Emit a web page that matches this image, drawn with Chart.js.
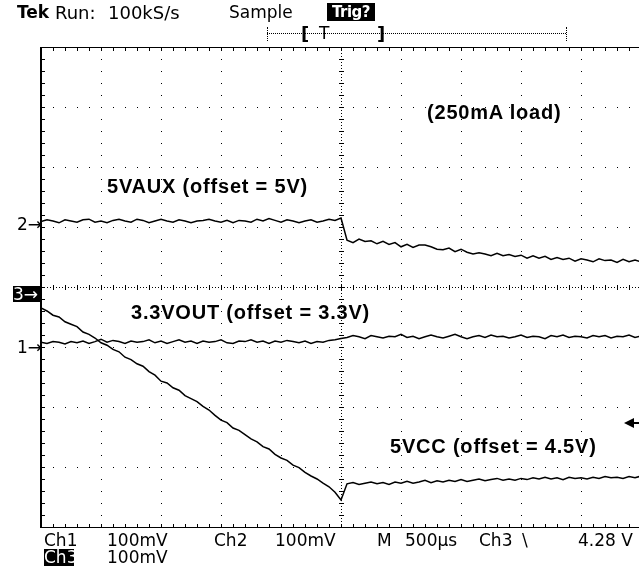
<!DOCTYPE html>
<html>
<head>
<meta charset="utf-8">
<script src="https://cdn.jsdelivr.net/npm/chart.js@4.4.0/dist/chart.umd.min.js"></script>
<style>
  html, body { margin: 0; padding: 0; background: #fff; }
  #wrap { position: relative; width: 639px; height: 567px; overflow: hidden; }
  #scope { position: absolute; left: 0; top: 0; }
  .t { position: absolute; font-family: "DejaVu Sans", sans-serif; font-size: 17px; line-height: 17px; color: #000; white-space: nowrap; }
  .inv { background: #000; color: #fff; text-align: center; }
  .note { position: absolute; font-family: "Liberation Sans", Arial, sans-serif; font-weight: bold; font-size: 20px; line-height: 20px; letter-spacing: 0.8px; color: #000; white-space: nowrap; }
  .dotline { position: absolute; border-top: 1px dotted #000; height: 0; }
  .dotv { position: absolute; border-left: 1px dotted #000; width: 0; }
</style>
</head>
<body>
<div id="wrap">
  <canvas id="scope" width="639" height="567"></canvas>

  <!-- header -->
  <div class="t" style="left:17px; top:4px; font-weight:bold;">Tek</div>
  <div class="t" style="left:55px; top:4px; font-size:18px;">Run:</div>
  <div class="t" style="left:108px; top:4px; font-size:18px;">100kS/s</div>
  <div class="t" style="left:229px; top:4px;">Sample</div>
  <div class="t inv" style="left:327px; top:3px; width:48px; height:18px; font-weight:bold; font-size:15px; line-height:18px; letter-spacing:-0.5px;">Trig?</div>

  <!-- record bracket -->
  <div class="dotline" style="left:267px; top:33px; width:299px;"></div>
  <div class="dotv" style="left:267px; top:27px; height:14px;"></div>
  <div class="dotv" style="left:566px; top:27px; height:14px;"></div>
  <div class="t" style="left:301px; top:25px; font-weight:bold; font-size:18px; line-height:18px;">[</div>
  <div class="t" style="left:319px; top:25px;">T</div>
  <div class="t" style="left:377px; top:25px; font-weight:bold; font-size:18px; line-height:18px;">]</div>

  <!-- channel markers -->
  <div class="t" style="left:17px; top:216px;">2→</div>
  <div class="t inv" style="left:13px; top:286px; width:27px; height:16px; line-height:16px; text-align:left;">3→</div>
  <div class="t" style="left:17px; top:339px;">1→</div>
  <div style="position:absolute; left:624px; top:418px; width:0; height:0; border-right:10px solid #000; border-top:5px solid transparent; border-bottom:5px solid transparent;"></div>
  <div style="position:absolute; left:633px; top:422px; width:7px; height:2px; background:#000;"></div>

  <!-- annotations -->
  <div class="note" style="left:427px; top:102px;">(250mA load)</div>
  <div class="note" style="left:107px; top:176px;">5VAUX (offset = 5V)</div>
  <div class="note" style="left:131px; top:302px;">3.3VOUT (offset = 3.3V)</div>
  <div class="note" style="left:390px; top:436px;">5VCC (offset = 4.5V)</div>

  <!-- footer -->
  <div class="t" style="left:44px; top:532px;">Ch1</div>
  <div class="t" style="left:107px; top:532px;">100mV</div>
  <div class="t" style="left:214px; top:532px;">Ch2</div>
  <div class="t" style="left:275px; top:532px;">100mV</div>
  <div class="t" style="left:377px; top:532px;">M</div>
  <div class="t" style="left:405px; top:532px;">500µs</div>
  <div class="t" style="left:479px; top:532px;">Ch3</div>
  <div class="t" style="left:522px; top:532px;">\</div>
  <div class="t" style="left:578px; top:532px;">4.28 V</div>
  <div class="t inv" style="left:44px; top:549px; width:30px; height:17px; line-height:17px;">Ch3</div>
  <div class="t" style="left:107px; top:549px;">100mV</div>
</div>

<script>
// sample clock: 500us/div, trigger at centre of the screen
const t0 = -2500;
const dt = 50;

// screen reference (divisions) of each channel's ground marker
const ch1Ref = -1;
const ch2Ref = 1;
const ch3Ref = 0;

// 3.3VOUT, mV relative to 3.3V offset
const ch1 = [8, 6, 9, 8, 5, 9, 7, 10, 6, 9, 13, 8, 11, 9, 6, 10, 8, 9, 12, 7,
  10, 6, 9, 12, 8, 10, 6, 10, 8, 9, 12, 7, 6, 10, 9, 12, 8, 10, 6, 10,
  8, 11, 9, 7, 10, 6, 9, 8, 11, 12, 14,
  16, 19, 17, 14, 19, 17, 15, 18, 17, 21, 16, 18, 14, 17, 20, 17, 15, 18, 21, 17,
  14, 17, 19, 16, 20, 17, 18, 15, 17, 20, 16, 18, 17, 14, 19, 17, 20, 16, 18, 17,
  15, 19, 17, 19, 15, 18, 17, 20, 16, 18];

// 5VAUX, mV relative to 5V offset
const ch2 = [9, 12, 10, 7, 12, 10, 8, 12, 13, 8, 10, 7, 11, 13, 10, 8, 13, 11, 7, 10,
  13, 10, 8, 12, 10, 7, 10, 11, 13, 10, 8, 11, 7, 11, 10, 8, 13, 10, 14, 11,
  8, 12, 10, 7, 10, 12, 8, 10, 13, 11, 15,
  -22, -26, -20, -24, -23, -28, -24, -29, -26, -33, -29, -34, -30, -30, -33, -37, -38, -35, -41, -37,
  -42, -45, -43, -45, -48, -44, -48, -46, -49, -47, -52, -48, -52, -49, -54, -51, -54, -52, -57, -53,
  -55, -58, -53, -56, -55, -59, -54, -58, -55, -58];

// 5VCC, mV relative to 4.5V offset
const ch3 = [-35, -40, -47, -50, -58, -62, -66, -75, -79, -85, -93, -97, -104, -108, -117, -121, -128, -132, -141, -147,
  -157, -160, -168, -172, -181, -186, -191, -199, -205, -214, -222, -226, -235, -239, -246, -253, -258, -266, -270, -279,
  -285, -289, -297, -301, -309, -315, -320, -327, -333, -342, -355,
  -328, -326, -329, -327, -325, -328, -326, -329, -325, -327, -324, -327, -325, -322, -326, -323, -325, -322, -324, -321,
  -324, -322, -320, -323, -321, -319, -322, -320, -322, -319, -321, -318, -320, -317, -320, -318, -321, -317, -319, -318,
  -320, -317, -319, -316, -318, -317, -319, -316, -318, -315];

function trace(values, ref) {
  return values.map((mv, i) => ({ x: t0 + i * dt, y: ref + mv / 100 }));
}

function traceSet(values, ref) {
  return {
    data: trace(values, ref),
    borderColor: '#000',
    borderWidth: 1.5,
    pointRadius: 0,
    tension: 0,
    fill: false
  };
}

// Tek style graticule: dotted divisions, ticked centre axes, ticked frame
const graticule = {
  id: 'graticule',
  beforeDatasetsDraw(chart) {
    const ctx = chart.ctx;
    const a = chart.chartArea;
    const x = chart.scales.x;
    const y = chart.scales.y;
    const dot = (px, py, w, h) => ctx.fillRect(Math.round(px), Math.round(py), w || 1, h || 1);
    ctx.save();
    ctx.fillStyle = '#000';

    // horizontal division lines
    for (let d = -3; d <= 3; d++) {
      if (d === 0) continue;
      const py = y.getPixelForValue(d);
      for (let k = -25; k <= 25; k++) dot(x.getPixelForValue(k * 100), py);
    }
    // vertical division lines
    for (let d = -4; d <= 5; d++) {
      if (d === 0) continue;
      const px = x.getPixelForValue(d * 500);
      for (let k = -20; k <= 20; k++) dot(px, y.getPixelForValue(k / 5));
    }
    // centre axes
    const cx = x.getPixelForValue(0);
    const cy = y.getPixelForValue(0);
    for (let k = -80; k <= 80; k++) dot(cx, y.getPixelForValue(k / 20));
    for (let k = -100; k <= 100; k++) dot(x.getPixelForValue(k * 25), cy);
    for (let k = -20; k <= 20; k++) dot(cx - 2, y.getPixelForValue(k / 5), 5, 1);
    for (let k = -25; k <= 25; k++) dot(x.getPixelForValue(k * 100), cy - 2, 1, 5);

    // frame
    ctx.fillRect(a.left - 1, a.top, 2, a.bottom - a.top + 1);
    ctx.fillRect(a.left, a.top, a.right - a.left, 1);
    ctx.fillRect(a.left, a.bottom, a.right - a.left, 1);
    for (let k = -25; k <= 25; k++) {
      const px = x.getPixelForValue(k * 100);
      dot(px, a.top, 1, 4);
      dot(px, a.bottom - 3, 1, 4);
    }
    for (let k = -20; k <= 20; k++) dot(a.left, y.getPixelForValue(k / 5), 4, 1);
    ctx.restore();
  }
};

new Chart(document.getElementById('scope').getContext('2d'), {
  type: 'line',
  data: {
    datasets: [traceSet(ch2, ch2Ref), traceSet(ch1, ch1Ref), traceSet(ch3, ch3Ref)]
  },
  options: {
    responsive: false,
    animation: false,
    events: [],
    layout: { padding: { left: 41, top: 47, right: 0, bottom: 40 } },
    scales: {
      x: { type: 'linear', min: -2500, max: 2483, display: false },
      y: { min: -4, max: 4, display: false }
    },
    plugins: {
      legend: { display: false },
      tooltip: { enabled: false }
    }
  },
  plugins: [graticule]
});
</script>
</body>
</html>
